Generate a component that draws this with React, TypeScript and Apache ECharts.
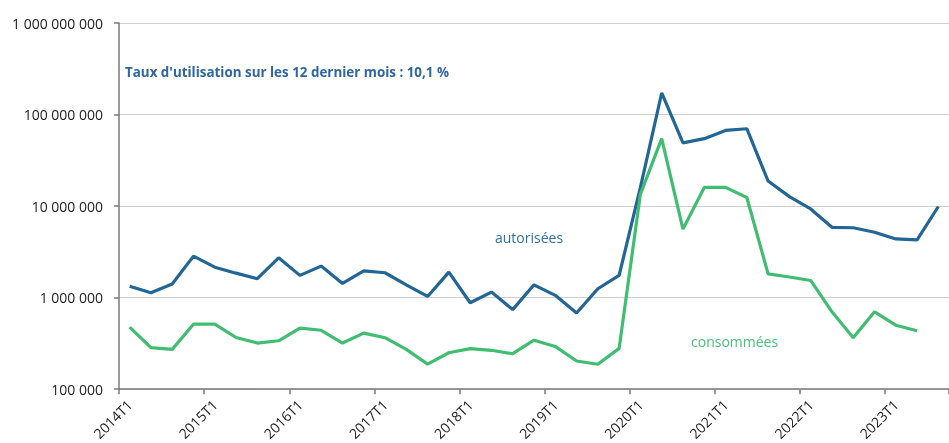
import React, { useEffect, useRef } from "react";
import * as echarts from "echarts";

const years = [2014, 2015, 2016, 2017, 2018, 2019, 2020, 2021, 2022, 2023];
const categories: string[] = [];
years.forEach((y) => [1, 2, 3, 4].forEach((q) => categories.push(`${y}T${q}`)));
const quarters = categories.slice(0, 39);

const autorisees = [
  1330000, 1130000, 1410000, 2840000, 2150000, 1850000, 1610000, 2720000, 1750000, 2210000,
  1430000, 1960000, 1870000, 1380000, 1030000, 1900000, 880000, 1150000, 740000, 1380000,
  1060000, 680000, 1250000, 1750000, 16000000, 172000000, 49000000, 54500000, 67000000, 70000000,
  18800000, 12700000, 9300000, 5860000, 5800000, 5180000, 4380000, 4270000, 9900000,
];

const consommees = [
  476000, 284000, 272000, 513000, 513000, 367000, 319000, 338000, 464000, 440000,
  319000, 410000, 365000, 272000, 188000, 250000, 277000, 266000, 244000, 343000,
  293000, 203000, 187000, 279000, 13500000, 54500000, 5600000, 16000000, 16000000, 12400000,
  1820000, 1680000, 1540000, 700000, 365000, 700000, 500000, 434000,
];

const titleText = "Taux d'utilisation sur les 12 dernier mois : 10,1 %";
const labelAuto = "autorisées";
const labelConso = "consommées";

const fmt = (v: number) => String(Math.round(v)).replace(/\B(?=(\d{3})+(?!\d))/g, " ");

export default function App() {
  const ref = useRef<HTMLDivElement>(null);
  useEffect(() => {
    if (!ref.current) return;
    const chart = echarts.init(ref.current, undefined, { renderer: "svg" });
    const font = "Open Sans, Noto Sans, sans-serif";
    chart.setOption({
      animation: false,
      grid: { left: 119, top: 23, bottom: 52, right: -7.5, containLabel: false },
      xAxis: {
        type: "category",
        data: quarters,
        boundaryGap: true,
        axisLine: { lineStyle: { color: "#7a7a7a", width: 1.5 } },
        axisTick: { show: true, interval: 3, length: 5, alignWithLabel: false, lineStyle: { color: "#7a7a7a", width: 1.5 } },
        axisLabel: {
          interval: 3,
          rotate: 45,
          fontSize: 14,
          color: "#222",
          fontFamily: font,
          margin: 13,
        },
        splitLine: { show: false },
      },
      yAxis: {
        type: "log",
        logBase: 10,
        min: 100000,
        max: 1000000000,
        axisLine: { show: true, lineStyle: { color: "#7a7a7a", width: 1.5 } },
        axisTick: { show: true, length: 5, lineStyle: { color: "#7a7a7a", width: 1.5 } },
        axisLabel: { formatter: (v: number) => fmt(v), fontSize: 14, color: "#222", fontFamily: font, margin: 16 },
        splitLine: { show: true, lineStyle: { color: "#cfcfcf", width: 1 } },
        minorTick: { show: false },
      },
      series: [
        {
          name: labelAuto,
          type: "line",
          data: autorisees,
          symbol: "none",
          lineStyle: { color: "#216694", width: 3.2 },
          itemStyle: { color: "#216694" },
        },
        {
          name: labelConso,
          type: "line",
          data: consommees,
          symbol: "none",
          lineStyle: { color: "#41bd72", width: 3.2 },
          itemStyle: { color: "#41bd72" },
        },
      ],
      graphic: [
        {
          type: "text",
          left: 125,
          top: 65,
          style: { text: titleText, fill: "#2f65a0", font: `bold 13.4px ${font}` },
        },
        {
          type: "text",
          left: 495,
          top: 230,
          style: { text: labelAuto, fill: "#2f6fa6", font: `14px ${font}` },
        },
        {
          type: "text",
          left: 691,
          top: 334,
          style: { text: labelConso, fill: "#47c07a", font: `14px ${font}` },
        },
      ],
    });
    return () => chart.dispose();
  }, []);
  return (
    <div
      ref={ref}
      style={{ position: "fixed", left: 0, top: 0, width: 949, height: 443, overflow: "hidden" }}
    />
  );
}
